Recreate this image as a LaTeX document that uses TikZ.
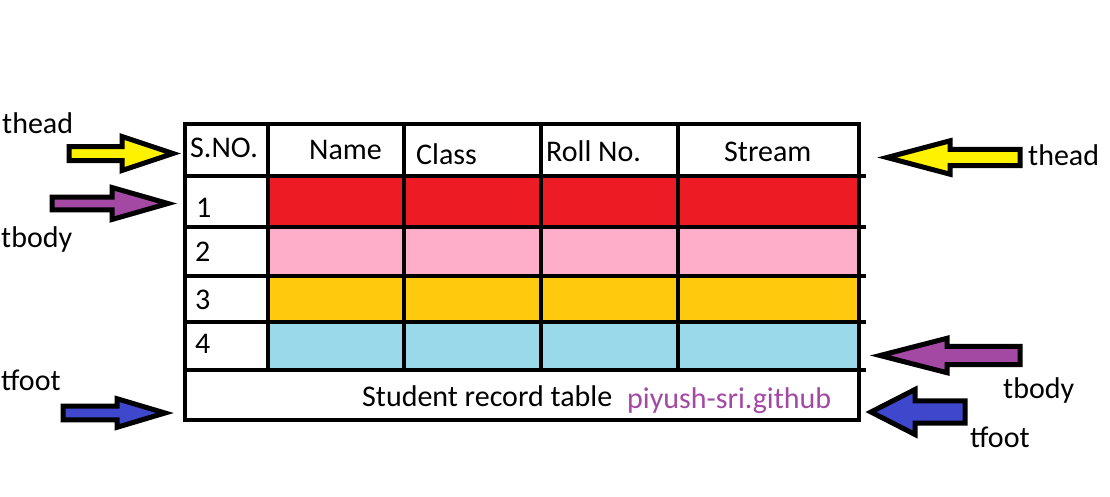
\documentclass[tikz,border=0pt]{standalone}
\usepackage{fontspec}
\setmainfont{Carlito}
\usetikzlibrary{positioning}

\definecolor{rowred}{HTML}{ED1C24}
\definecolor{rowpink}{HTML}{FFAEC9}
\definecolor{rowgold}{HTML}{FFC90E}
\definecolor{rowblue}{HTML}{99D9EA}
\definecolor{arryellow}{HTML}{FFF200}
\definecolor{arrpurple}{HTML}{A349A4}
\definecolor{arrblue}{HTML}{3F48CC}

% colour, tail x, head x, tip x, mid y, shaft half, head half
\newcommand{\blockarrow}[7]{%
  \draw[arrowbox, fill=#1] (#2,#5-#6) -- (#3,#5-#6) -- (#3,#5-#7) -- (#4,#5)
    -- (#3,#5+#7) -- (#3,#5+#6) -- (#2,#5+#6) -- cycle;}

\begin{document}
\begin{tikzpicture}[
  x=1pt, y=-1pt,
  grid/.style={line width=4.5pt},
  arrowbox/.style={draw=black, line width=5pt, line join=miter},
  txt/.style={font=\fontsize{30}{35}\selectfont, inner sep=0pt, anchor=base west}
]
\useasboundingbox (0,0) rectangle (1110,496);

% Row colours
\fill[rowred]  (268,176) rectangle (859,227);
\fill[rowpink] (268,227) rectangle (859,276);
\fill[rowgold] (268,276) rectangle (859,322);
\fill[rowblue] (268,322) rectangle (859,370);

% Grid
\draw[grid] (185,124) rectangle (859,420);
\draw[grid] (185,176) -- (866,176);
\draw[grid] (185,227) -- (866,227);
\draw[grid] (185,276) -- (866,276);
\draw[grid] (185,322) -- (866,322);
\draw[grid] (185,370) -- (866,370);
\draw[grid] (268,124) -- (268,370);
\draw[grid] (404,124) -- (404,370);
\draw[grid] (541,124) -- (541,370);
\draw[grid] (678,124) -- (678,370);

% Header
\node[txt] (sno) at (190,157) {S.NO.};
\node[txt] (name) at (309,159) {Name};
\node[txt] (class) at (416,164) {Class};
\node[txt] (roll) at (546,161) {Roll No.};
\node[txt] (stream) at (724,161) {Stream};

% Body
\node[txt] (r1) at (196,217) {1};
\node[txt] (r2) at (195,261) {2};
\node[txt] (r3) at (195,309) {3};
\node[txt] (r4) at (195,353) {4};

% Footer
\node[txt] (caption) at (362,406) {Student record table};
\node[txt, text=arrpurple] (credit) at (627,408) {piyush-sri.github};

% Arrows
\blockarrow{arryellow}{69}{122}{173}{153.5}{7}{17}
\blockarrow{arrpurple}{52}{112}{168}{203.5}{6.3}{16}
\blockarrow{arrblue}{63}{117}{165}{413}{6.8}{14.3}
\blockarrow{arryellow}{1020}{950}{887}{157.5}{8.2}{16.7}
\blockarrow{arrpurple}{1020}{947}{880}{355.5}{9.2}{17.2}
\blockarrow{arrblue}{965}{915}{871}{412}{11.2}{22.5}

% Labels
\node[txt] (theadL) at (2,133) {thead};
\node[txt] (tbodyL) at (1,247) {tbody};
\node[txt] (tfootL) at (1,390) {tfoot};
\node[txt] (theadR) at (1028,165) {thead};
\node[txt] (tbodyR) at (1003,398) {tbody};
\node[txt] (tfootR) at (970,447) {tfoot};

\end{tikzpicture}
\end{document}
